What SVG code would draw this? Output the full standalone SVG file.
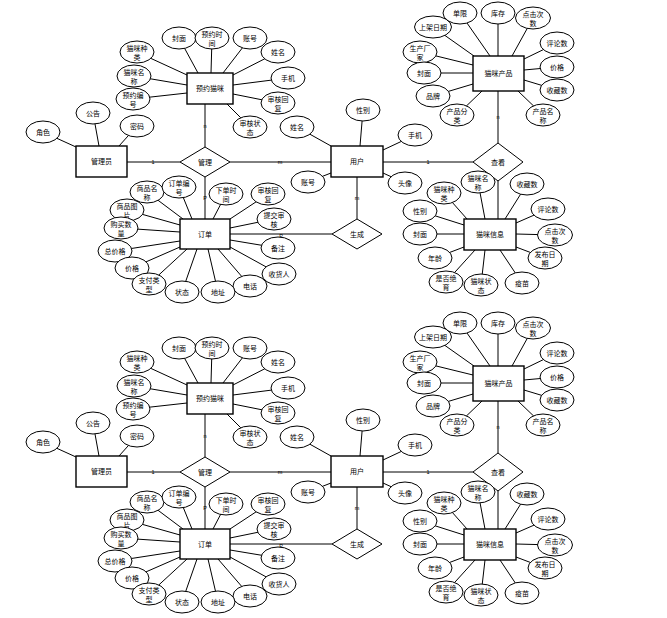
<svg xmlns="http://www.w3.org/2000/svg" width="667" height="618" viewBox="0 0 667 618">
<style>
.e{fill:#fff;stroke:#000;stroke-width:1}
.r{fill:#fff;stroke:#000;stroke-width:1.4}
.d{fill:#fff;stroke:#000;stroke-width:1}
.c line{stroke:#000;stroke-width:1}
text{font-family:"Liberation Sans","Noto Sans CJK SC",sans-serif;font-size:7px;text-anchor:middle;fill:#000}
.k{font-size:5.5px}
</style>
<rect width="667" height="618" fill="#fff"/>
<g id="copy1">
<g id="connectors" class="c">
<line x1="137" y1="52" x2="187" y2="75"/><line x1="179" y1="38" x2="198" y2="73"/><line x1="212" y1="38" x2="211" y2="73"/><line x1="250" y1="38" x2="223" y2="73"/><line x1="278" y1="52" x2="233" y2="75"/><line x1="134" y1="76" x2="187" y2="85"/><line x1="288" y1="78" x2="233" y2="85"/><line x1="133" y1="99" x2="187" y2="93"/><line x1="278" y1="103" x2="233" y2="94"/><line x1="250" y1="127" x2="227" y2="104"/>
<line x1="43" y1="132" x2="76" y2="147"/><line x1="93" y1="113" x2="99" y2="146"/><line x1="137" y1="126" x2="119" y2="146"/>
<line x1="297" y1="127" x2="331" y2="146"/><line x1="363" y1="110" x2="360" y2="146"/><line x1="415" y1="135" x2="383" y2="150"/><line x1="308" y1="182" x2="331" y2="173"/><line x1="405" y1="183" x2="383" y2="173"/>
<line x1="460" y1="13" x2="490" y2="56"/><line x1="498" y1="13" x2="498" y2="56"/><line x1="533" y1="18" x2="512" y2="56"/><line x1="433" y1="27" x2="474" y2="56"/><line x1="420" y1="52" x2="473" y2="65"/><line x1="424" y1="73" x2="473" y2="73"/><line x1="433" y1="96" x2="473" y2="84"/><line x1="457" y1="115" x2="482" y2="91"/><line x1="557" y1="43" x2="524" y2="59"/><line x1="557" y1="67" x2="524" y2="70"/><line x1="557" y1="90" x2="524" y2="80"/><line x1="543" y1="115" x2="518" y2="91"/>
<line x1="444" y1="193" x2="467" y2="219"/><line x1="478" y1="182" x2="485" y2="219"/><line x1="527" y1="184" x2="505" y2="219"/><line x1="420" y1="211" x2="464" y2="225"/><line x1="548" y1="209" x2="516" y2="223"/><line x1="420" y1="234" x2="464" y2="234"/><line x1="555" y1="235" x2="516" y2="234"/><line x1="435" y1="258" x2="464" y2="247"/><line x1="545" y1="258" x2="516" y2="247"/><line x1="446" y1="282" x2="475" y2="250"/><line x1="481" y1="285" x2="485" y2="250"/><line x1="522" y1="283" x2="500" y2="250"/>
<line x1="147" y1="192" x2="183" y2="219"/><line x1="179" y1="187" x2="192" y2="219"/><line x1="226" y1="194" x2="213" y2="219"/><line x1="268" y1="194" x2="230" y2="219"/><line x1="127" y1="210" x2="180" y2="225"/><line x1="274" y1="219" x2="230" y2="228"/><line x1="121" y1="228" x2="180" y2="232"/><line x1="278" y1="248" x2="230" y2="240"/><line x1="115" y1="251" x2="180" y2="241"/><line x1="279" y1="274" x2="230" y2="247"/><line x1="132" y1="268" x2="180" y2="247"/><line x1="250" y1="286" x2="218" y2="249"/><line x1="149" y1="284" x2="187" y2="249"/><line x1="182" y1="292" x2="197" y2="249"/><line x1="218" y1="292" x2="208" y2="249"/>
<line x1="127" y1="162" x2="180" y2="162"/><line x1="230" y1="162" x2="331" y2="162"/><line x1="205" y1="104" x2="205" y2="147"/><line x1="205" y1="177" x2="205" y2="219"/><line x1="383" y1="162" x2="473" y2="162"/><line x1="498" y1="91" x2="498" y2="143"/><line x1="498" y1="181" x2="498" y2="219"/><line x1="357" y1="177" x2="357" y2="219"/><line x1="230" y1="234" x2="332" y2="234"/>
<text class="k" x="153" y="164">1</text><text class="k" x="280" y="164">m</text><text class="k" x="205" y="128">n</text><text class="k" x="205" y="200">P</text><text class="k" x="281" y="238">P</text><text class="k" x="428" y="164">1</text><text class="k" x="498" y="119">n</text><text class="k" x="357" y="200">m</text>
</g>
<g id="e-yuyue"><rect class="r" x="187" y="73" width="46" height="31"/><text x="210" y="91">预约猫咪</text></g>
<g id="e-admin"><rect class="r" x="76" y="146" width="51" height="31"/><text x="101.5" y="164">管理员</text></g>
<g id="e-user"><rect class="r" x="331" y="146" width="52" height="31"/><text x="357" y="164">用户</text></g>
<g id="e-product"><rect class="r" x="473" y="56" width="51" height="35"/><text x="498.5" y="76">猫咪产品</text></g>
<g id="e-catinfo"><rect class="r" x="464" y="219" width="52" height="31"/><text x="490" y="237">猫咪信息</text></g>
<g id="e-order"><rect class="r" x="180" y="219" width="50" height="30"/><text x="205" y="236.5">订单</text></g>
<g id="r-manage"><polygon class="d" points="180,162 205,147 230,162 205,177"/><text x="205" y="164.5">管理</text></g>
<g id="r-view"><polygon class="d" points="473,162 498,143 523,162 498,181"/><text x="498" y="164.5">查看</text></g>
<g id="r-gen"><polygon class="d" points="332,234 357,219 382,234 357,249"/><text x="357" y="236.5">生成</text></g>
<g id="a1" transform="translate(137,52)"><ellipse class="e" rx="17" ry="11"/><text y="-1">猫咪种</text><text y="8">类</text></g>
<g id="a2" transform="translate(179,38)"><ellipse class="e" rx="17" ry="11"/><text y="2.5">封面</text></g>
<g id="a3" transform="translate(212,38)"><ellipse class="e" rx="17" ry="11"/><text y="-1">预约时</text><text y="8">间</text></g>
<g id="a4" transform="translate(250,38)"><ellipse class="e" rx="17" ry="11"/><text y="2.5">账号</text></g>
<g id="a5" transform="translate(278,52)"><ellipse class="e" rx="17" ry="11"/><text y="2.5">姓名</text></g>
<g id="a6" transform="translate(134,76)"><ellipse class="e" rx="17" ry="11"/><text y="-1">猫咪名</text><text y="8">称</text></g>
<g id="a7" transform="translate(288,78)"><ellipse class="e" rx="17" ry="11"/><text y="2.5">手机</text></g>
<g id="a8" transform="translate(133,99)"><ellipse class="e" rx="17" ry="11"/><text y="-1">预约编</text><text y="8">号</text></g>
<g id="a9" transform="translate(278,103)"><ellipse class="e" rx="17" ry="11"/><text y="-1">审核回</text><text y="8">复</text></g>
<g id="a10" transform="translate(250,127)"><ellipse class="e" rx="17" ry="11"/><text y="-1">审核状</text><text y="8">态</text></g>
<g id="a11" transform="translate(43,132)"><ellipse class="e" rx="17" ry="11"/><text y="2.5">角色</text></g>
<g id="a12" transform="translate(93,113)"><ellipse class="e" rx="17" ry="11"/><text y="2.5">公告</text></g>
<g id="a13" transform="translate(137,126)"><ellipse class="e" rx="17" ry="11"/><text y="2.5">密码</text></g>
<g id="a14" transform="translate(297,127)"><ellipse class="e" rx="17" ry="11"/><text y="2.5">姓名</text></g>
<g id="a15" transform="translate(363,110)"><ellipse class="e" rx="17" ry="11"/><text y="2.5">性别</text></g>
<g id="a16" transform="translate(415,135)"><ellipse class="e" rx="17" ry="11"/><text y="2.5">手机</text></g>
<g id="a17" transform="translate(308,182)"><ellipse class="e" rx="17" ry="11"/><text y="2.5">账号</text></g>
<g id="a18" transform="translate(405,183)"><ellipse class="e" rx="17" ry="11"/><text y="2.5">头像</text></g>
<g id="a19" transform="translate(460,13)"><ellipse class="e" rx="17" ry="11"/><text y="2.5">单限</text></g>
<g id="a20" transform="translate(498,13)"><ellipse class="e" rx="17" ry="11"/><text y="2.5">库存</text></g>
<g id="a21" transform="translate(533,18)"><ellipse class="e" rx="17.5" ry="11"/><text y="-1">点击次</text><text y="8">数</text></g>
<g id="a22" transform="translate(433,27)"><ellipse class="e" rx="18.5" ry="11"/><text y="2.5">上架日期</text></g>
<g id="a23" transform="translate(420,52)"><ellipse class="e" rx="17" ry="11"/><text y="-1">生产厂</text><text y="8">家</text></g>
<g id="a24" transform="translate(424,73)"><ellipse class="e" rx="17" ry="11"/><text y="2.5">封面</text></g>
<g id="a25" transform="translate(433,96)"><ellipse class="e" rx="17" ry="11"/><text y="2.5">品牌</text></g>
<g id="a26" transform="translate(457,115)"><ellipse class="e" rx="17" ry="11"/><text y="-1">产品分</text><text y="8">类</text></g>
<g id="a27" transform="translate(557,43)"><ellipse class="e" rx="17" ry="11"/><text y="2.5">评论数</text></g>
<g id="a28" transform="translate(557,67)"><ellipse class="e" rx="17" ry="11"/><text y="2.5">价格</text></g>
<g id="a29" transform="translate(557,90)"><ellipse class="e" rx="17" ry="11"/><text y="2.5">收藏数</text></g>
<g id="a30" transform="translate(543,115)"><ellipse class="e" rx="17" ry="11"/><text y="-1">产品名</text><text y="8">称</text></g>
<g id="a31" transform="translate(444,193)"><ellipse class="e" rx="17" ry="11"/><text y="-1">猫咪种</text><text y="8">类</text></g>
<g id="a32" transform="translate(478,182)"><ellipse class="e" rx="17" ry="11"/><text y="-1">猫咪名</text><text y="8">称</text></g>
<g id="a33" transform="translate(527,184)"><ellipse class="e" rx="17" ry="11"/><text y="2.5">收藏数</text></g>
<g id="a34" transform="translate(420,211)"><ellipse class="e" rx="17" ry="11"/><text y="2.5">性别</text></g>
<g id="a35" transform="translate(548,209)"><ellipse class="e" rx="17" ry="11"/><text y="2.5">评论数</text></g>
<g id="a36" transform="translate(420,234)"><ellipse class="e" rx="17" ry="11"/><text y="2.5">封面</text></g>
<g id="a37" transform="translate(555,235)"><ellipse class="e" rx="17.5" ry="11"/><text y="-1">点击次</text><text y="8">数</text></g>
<g id="a38" transform="translate(435,258)"><ellipse class="e" rx="17" ry="11"/><text y="2.5">年龄</text></g>
<g id="a39" transform="translate(545,258)"><ellipse class="e" rx="17" ry="11"/><text y="-1">发布日</text><text y="8">期</text></g>
<g id="a40" transform="translate(446,282)"><ellipse class="e" rx="17" ry="11"/><text y="-1">是否绝</text><text y="8">育</text></g>
<g id="a41" transform="translate(481,285)"><ellipse class="e" rx="17" ry="11"/><text y="-1">猫咪状</text><text y="8">态</text></g>
<g id="a42" transform="translate(522,283)"><ellipse class="e" rx="17" ry="11"/><text y="2.5">疫苗</text></g>
<g id="a43" transform="translate(147,192)"><ellipse class="e" rx="17" ry="11"/><text y="-1">商品名</text><text y="8">称</text></g>
<g id="a44" transform="translate(179,187)"><ellipse class="e" rx="17" ry="11"/><text y="-1">订单编</text><text y="8">号</text></g>
<g id="a45" transform="translate(226,194)"><ellipse class="e" rx="17" ry="11"/><text y="-1">下单时</text><text y="8">间</text></g>
<g id="a46" transform="translate(268,194)"><ellipse class="e" rx="17" ry="11"/><text y="-1">审核回</text><text y="8">复</text></g>
<g id="a47" transform="translate(127,210)"><ellipse class="e" rx="17" ry="11"/><text y="-1">商品图</text><text y="8">片</text></g>
<g id="a48" transform="translate(274,219)"><ellipse class="e" rx="17" ry="11"/><text y="-1">提交审</text><text y="8">核</text></g>
<g id="a49" transform="translate(121,228)"><ellipse class="e" rx="17" ry="11"/><text y="-1">购买数</text><text y="8">量</text></g>
<g id="a50" transform="translate(278,248)"><ellipse class="e" rx="17" ry="11"/><text y="2.5">备注</text></g>
<g id="a51" transform="translate(115,251)"><ellipse class="e" rx="17" ry="11"/><text y="2.5">总价格</text></g>
<g id="a52" transform="translate(279,274)"><ellipse class="e" rx="17" ry="11"/><text y="2.5">收货人</text></g>
<g id="a53" transform="translate(132,268)"><ellipse class="e" rx="17" ry="11"/><text y="2.5">价格</text></g>
<g id="a54" transform="translate(250,286)"><ellipse class="e" rx="17" ry="11"/><text y="2.5">电话</text></g>
<g id="a55" transform="translate(149,284)"><ellipse class="e" rx="17" ry="11"/><text y="-1">支付类</text><text y="8">型</text></g>
<g id="a56" transform="translate(182,292)"><ellipse class="e" rx="17" ry="11"/><text y="2.5">状态</text></g>
<g id="a57" transform="translate(218,292)"><ellipse class="e" rx="17" ry="11"/><text y="2.5">地址</text></g>
</g>
<g id="copy2" transform="translate(0,310)">
<g id="connectors-2" class="c">
<line x1="137" y1="52" x2="187" y2="75"/><line x1="179" y1="38" x2="198" y2="73"/><line x1="212" y1="38" x2="211" y2="73"/><line x1="250" y1="38" x2="223" y2="73"/><line x1="278" y1="52" x2="233" y2="75"/><line x1="134" y1="76" x2="187" y2="85"/><line x1="288" y1="78" x2="233" y2="85"/><line x1="133" y1="99" x2="187" y2="93"/><line x1="278" y1="103" x2="233" y2="94"/><line x1="250" y1="127" x2="227" y2="104"/>
<line x1="43" y1="132" x2="76" y2="147"/><line x1="93" y1="113" x2="99" y2="146"/><line x1="137" y1="126" x2="119" y2="146"/>
<line x1="297" y1="127" x2="331" y2="146"/><line x1="363" y1="110" x2="360" y2="146"/><line x1="415" y1="135" x2="383" y2="150"/><line x1="308" y1="182" x2="331" y2="173"/><line x1="405" y1="183" x2="383" y2="173"/>
<line x1="460" y1="13" x2="490" y2="56"/><line x1="498" y1="13" x2="498" y2="56"/><line x1="533" y1="18" x2="512" y2="56"/><line x1="433" y1="27" x2="474" y2="56"/><line x1="420" y1="52" x2="473" y2="65"/><line x1="424" y1="73" x2="473" y2="73"/><line x1="433" y1="96" x2="473" y2="84"/><line x1="457" y1="115" x2="482" y2="91"/><line x1="557" y1="43" x2="524" y2="59"/><line x1="557" y1="67" x2="524" y2="70"/><line x1="557" y1="90" x2="524" y2="80"/><line x1="543" y1="115" x2="518" y2="91"/>
<line x1="444" y1="193" x2="467" y2="219"/><line x1="478" y1="182" x2="485" y2="219"/><line x1="527" y1="184" x2="505" y2="219"/><line x1="420" y1="211" x2="464" y2="225"/><line x1="548" y1="209" x2="516" y2="223"/><line x1="420" y1="234" x2="464" y2="234"/><line x1="555" y1="235" x2="516" y2="234"/><line x1="435" y1="258" x2="464" y2="247"/><line x1="545" y1="258" x2="516" y2="247"/><line x1="446" y1="282" x2="475" y2="250"/><line x1="481" y1="285" x2="485" y2="250"/><line x1="522" y1="283" x2="500" y2="250"/>
<line x1="147" y1="192" x2="183" y2="219"/><line x1="179" y1="187" x2="192" y2="219"/><line x1="226" y1="194" x2="213" y2="219"/><line x1="268" y1="194" x2="230" y2="219"/><line x1="127" y1="210" x2="180" y2="225"/><line x1="274" y1="219" x2="230" y2="228"/><line x1="121" y1="228" x2="180" y2="232"/><line x1="278" y1="248" x2="230" y2="240"/><line x1="115" y1="251" x2="180" y2="241"/><line x1="279" y1="274" x2="230" y2="247"/><line x1="132" y1="268" x2="180" y2="247"/><line x1="250" y1="286" x2="218" y2="249"/><line x1="149" y1="284" x2="187" y2="249"/><line x1="182" y1="292" x2="197" y2="249"/><line x1="218" y1="292" x2="208" y2="249"/>
<line x1="127" y1="162" x2="180" y2="162"/><line x1="230" y1="162" x2="331" y2="162"/><line x1="205" y1="104" x2="205" y2="147"/><line x1="205" y1="177" x2="205" y2="219"/><line x1="383" y1="162" x2="473" y2="162"/><line x1="498" y1="91" x2="498" y2="143"/><line x1="498" y1="181" x2="498" y2="219"/><line x1="357" y1="177" x2="357" y2="219"/><line x1="230" y1="234" x2="332" y2="234"/>
<text class="k" x="153" y="164">1</text><text class="k" x="280" y="164">m</text><text class="k" x="205" y="128">n</text><text class="k" x="205" y="200">P</text><text class="k" x="281" y="238">P</text><text class="k" x="428" y="164">1</text><text class="k" x="498" y="119">n</text><text class="k" x="357" y="200">m</text>
</g>
<g id="e-yuyue-2"><rect class="r" x="187" y="73" width="46" height="31"/><text x="210" y="91">预约猫咪</text></g>
<g id="e-admin-2"><rect class="r" x="76" y="146" width="51" height="31"/><text x="101.5" y="164">管理员</text></g>
<g id="e-user-2"><rect class="r" x="331" y="146" width="52" height="31"/><text x="357" y="164">用户</text></g>
<g id="e-product-2"><rect class="r" x="473" y="56" width="51" height="35"/><text x="498.5" y="76">猫咪产品</text></g>
<g id="e-catinfo-2"><rect class="r" x="464" y="219" width="52" height="31"/><text x="490" y="237">猫咪信息</text></g>
<g id="e-order-2"><rect class="r" x="180" y="219" width="50" height="30"/><text x="205" y="236.5">订单</text></g>
<g id="r-manage-2"><polygon class="d" points="180,162 205,147 230,162 205,177"/><text x="205" y="164.5">管理</text></g>
<g id="r-view-2"><polygon class="d" points="473,162 498,143 523,162 498,181"/><text x="498" y="164.5">查看</text></g>
<g id="r-gen-2"><polygon class="d" points="332,234 357,219 382,234 357,249"/><text x="357" y="236.5">生成</text></g>
<g id="b1" transform="translate(137,52)"><ellipse class="e" rx="17" ry="11"/><text y="-1">猫咪种</text><text y="8">类</text></g>
<g id="b2" transform="translate(179,38)"><ellipse class="e" rx="17" ry="11"/><text y="2.5">封面</text></g>
<g id="b3" transform="translate(212,38)"><ellipse class="e" rx="17" ry="11"/><text y="-1">预约时</text><text y="8">间</text></g>
<g id="b4" transform="translate(250,38)"><ellipse class="e" rx="17" ry="11"/><text y="2.5">账号</text></g>
<g id="b5" transform="translate(278,52)"><ellipse class="e" rx="17" ry="11"/><text y="2.5">姓名</text></g>
<g id="b6" transform="translate(134,76)"><ellipse class="e" rx="17" ry="11"/><text y="-1">猫咪名</text><text y="8">称</text></g>
<g id="b7" transform="translate(288,78)"><ellipse class="e" rx="17" ry="11"/><text y="2.5">手机</text></g>
<g id="b8" transform="translate(133,99)"><ellipse class="e" rx="17" ry="11"/><text y="-1">预约编</text><text y="8">号</text></g>
<g id="b9" transform="translate(278,103)"><ellipse class="e" rx="17" ry="11"/><text y="-1">审核回</text><text y="8">复</text></g>
<g id="b10" transform="translate(250,127)"><ellipse class="e" rx="17" ry="11"/><text y="-1">审核状</text><text y="8">态</text></g>
<g id="b11" transform="translate(43,132)"><ellipse class="e" rx="17" ry="11"/><text y="2.5">角色</text></g>
<g id="b12" transform="translate(93,113)"><ellipse class="e" rx="17" ry="11"/><text y="2.5">公告</text></g>
<g id="b13" transform="translate(137,126)"><ellipse class="e" rx="17" ry="11"/><text y="2.5">密码</text></g>
<g id="b14" transform="translate(297,127)"><ellipse class="e" rx="17" ry="11"/><text y="2.5">姓名</text></g>
<g id="b15" transform="translate(363,110)"><ellipse class="e" rx="17" ry="11"/><text y="2.5">性别</text></g>
<g id="b16" transform="translate(415,135)"><ellipse class="e" rx="17" ry="11"/><text y="2.5">手机</text></g>
<g id="b17" transform="translate(308,182)"><ellipse class="e" rx="17" ry="11"/><text y="2.5">账号</text></g>
<g id="b18" transform="translate(405,183)"><ellipse class="e" rx="17" ry="11"/><text y="2.5">头像</text></g>
<g id="b19" transform="translate(460,13)"><ellipse class="e" rx="17" ry="11"/><text y="2.5">单限</text></g>
<g id="b20" transform="translate(498,13)"><ellipse class="e" rx="17" ry="11"/><text y="2.5">库存</text></g>
<g id="b21" transform="translate(533,18)"><ellipse class="e" rx="17.5" ry="11"/><text y="-1">点击次</text><text y="8">数</text></g>
<g id="b22" transform="translate(433,27)"><ellipse class="e" rx="18.5" ry="11"/><text y="2.5">上架日期</text></g>
<g id="b23" transform="translate(420,52)"><ellipse class="e" rx="17" ry="11"/><text y="-1">生产厂</text><text y="8">家</text></g>
<g id="b24" transform="translate(424,73)"><ellipse class="e" rx="17" ry="11"/><text y="2.5">封面</text></g>
<g id="b25" transform="translate(433,96)"><ellipse class="e" rx="17" ry="11"/><text y="2.5">品牌</text></g>
<g id="b26" transform="translate(457,115)"><ellipse class="e" rx="17" ry="11"/><text y="-1">产品分</text><text y="8">类</text></g>
<g id="b27" transform="translate(557,43)"><ellipse class="e" rx="17" ry="11"/><text y="2.5">评论数</text></g>
<g id="b28" transform="translate(557,67)"><ellipse class="e" rx="17" ry="11"/><text y="2.5">价格</text></g>
<g id="b29" transform="translate(557,90)"><ellipse class="e" rx="17" ry="11"/><text y="2.5">收藏数</text></g>
<g id="b30" transform="translate(543,115)"><ellipse class="e" rx="17" ry="11"/><text y="-1">产品名</text><text y="8">称</text></g>
<g id="b31" transform="translate(444,193)"><ellipse class="e" rx="17" ry="11"/><text y="-1">猫咪种</text><text y="8">类</text></g>
<g id="b32" transform="translate(478,182)"><ellipse class="e" rx="17" ry="11"/><text y="-1">猫咪名</text><text y="8">称</text></g>
<g id="b33" transform="translate(527,184)"><ellipse class="e" rx="17" ry="11"/><text y="2.5">收藏数</text></g>
<g id="b34" transform="translate(420,211)"><ellipse class="e" rx="17" ry="11"/><text y="2.5">性别</text></g>
<g id="b35" transform="translate(548,209)"><ellipse class="e" rx="17" ry="11"/><text y="2.5">评论数</text></g>
<g id="b36" transform="translate(420,234)"><ellipse class="e" rx="17" ry="11"/><text y="2.5">封面</text></g>
<g id="b37" transform="translate(555,235)"><ellipse class="e" rx="17.5" ry="11"/><text y="-1">点击次</text><text y="8">数</text></g>
<g id="b38" transform="translate(435,258)"><ellipse class="e" rx="17" ry="11"/><text y="2.5">年龄</text></g>
<g id="b39" transform="translate(545,258)"><ellipse class="e" rx="17" ry="11"/><text y="-1">发布日</text><text y="8">期</text></g>
<g id="b40" transform="translate(446,282)"><ellipse class="e" rx="17" ry="11"/><text y="-1">是否绝</text><text y="8">育</text></g>
<g id="b41" transform="translate(481,285)"><ellipse class="e" rx="17" ry="11"/><text y="-1">猫咪状</text><text y="8">态</text></g>
<g id="b42" transform="translate(522,283)"><ellipse class="e" rx="17" ry="11"/><text y="2.5">疫苗</text></g>
<g id="b43" transform="translate(147,192)"><ellipse class="e" rx="17" ry="11"/><text y="-1">商品名</text><text y="8">称</text></g>
<g id="b44" transform="translate(179,187)"><ellipse class="e" rx="17" ry="11"/><text y="-1">订单编</text><text y="8">号</text></g>
<g id="b45" transform="translate(226,194)"><ellipse class="e" rx="17" ry="11"/><text y="-1">下单时</text><text y="8">间</text></g>
<g id="b46" transform="translate(268,194)"><ellipse class="e" rx="17" ry="11"/><text y="-1">审核回</text><text y="8">复</text></g>
<g id="b47" transform="translate(127,210)"><ellipse class="e" rx="17" ry="11"/><text y="-1">商品图</text><text y="8">片</text></g>
<g id="b48" transform="translate(274,219)"><ellipse class="e" rx="17" ry="11"/><text y="-1">提交审</text><text y="8">核</text></g>
<g id="b49" transform="translate(121,228)"><ellipse class="e" rx="17" ry="11"/><text y="-1">购买数</text><text y="8">量</text></g>
<g id="b50" transform="translate(278,248)"><ellipse class="e" rx="17" ry="11"/><text y="2.5">备注</text></g>
<g id="b51" transform="translate(115,251)"><ellipse class="e" rx="17" ry="11"/><text y="2.5">总价格</text></g>
<g id="b52" transform="translate(279,274)"><ellipse class="e" rx="17" ry="11"/><text y="2.5">收货人</text></g>
<g id="b53" transform="translate(132,268)"><ellipse class="e" rx="17" ry="11"/><text y="2.5">价格</text></g>
<g id="b54" transform="translate(250,286)"><ellipse class="e" rx="17" ry="11"/><text y="2.5">电话</text></g>
<g id="b55" transform="translate(149,284)"><ellipse class="e" rx="17" ry="11"/><text y="-1">支付类</text><text y="8">型</text></g>
<g id="b56" transform="translate(182,292)"><ellipse class="e" rx="17" ry="11"/><text y="2.5">状态</text></g>
<g id="b57" transform="translate(218,292)"><ellipse class="e" rx="17" ry="11"/><text y="2.5">地址</text></g>
</g>
</svg>
